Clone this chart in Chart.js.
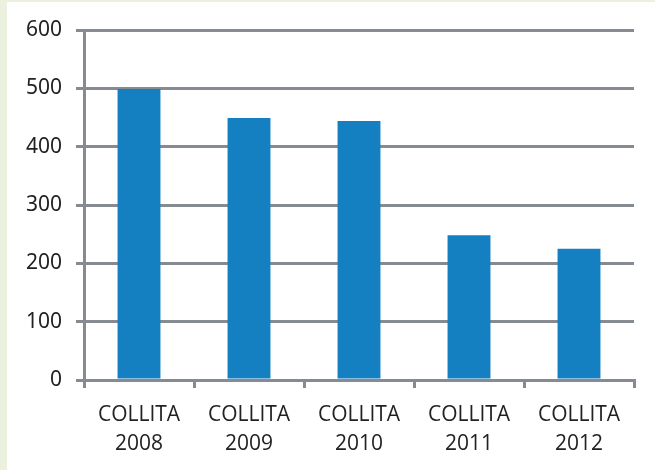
<!DOCTYPE html>
<html>
<head>
<meta charset="utf-8">
<script src="https://cdn.jsdelivr.net/npm/chart.js@4/dist/chart.umd.min.js"></script>
<style>
  html, body { margin: 0; padding: 0; background: #ebf1de; }
  #panel { position: absolute; left: 7px; top: 2px; width: 648px; height: 468px; background: #ffffff; }
</style>
</head>
<body>
<div id="panel"><canvas id="myChart" width="648" height="468"></canvas></div>
<script>
// dades de les collites
var categories = [["COLLITA", "2008"], ["COLLITA", "2009"], ["COLLITA", "2010"], ["COLLITA", "2011"], ["COLLITA", "2012"]];
var values = [499, 449, 444, 248, 225];
var yTicks = [0, 100, 200, 300, 400, 500, 600];

(function() {
  var gridColor = "#868b92";
  var ctx = document.getElementById("myChart").getContext("2d");

  var chart = new Chart(ctx, {
    type: "bar",
    data: {
      labels: categories,
      datasets: [{
        data: values,
        backgroundColor: "#1480c1",
        borderWidth: 0,
        barPercentage: 0.39,
        categoryPercentage: 1
      }]
    },
    options: {
      responsive: false,
      animation: false,
      layout: { padding: { top: 28, right: 21, left: 0, bottom: 0 } },
      plugins: { legend: { display: false }, tooltip: { enabled: false } },
      scales: {
        x: {
          grid: { offset: true, drawOnChartArea: false, drawTicks: true, tickLength: 8, color: gridColor, lineWidth: 3 },
          border: { display: true, color: gridColor, width: 3 },
          ticks: {
            color: "#222222",
            padding: 12,
            font: { family: "'Liberation Sans Narrow', 'Open Sans', sans-serif", size: 21, lineHeight: 1.4 }
          },
          afterFit: function(scale) { scale.height = 90; }
        },
        y: {
          min: 0,
          max: 600,
          afterBuildTicks: function(scale) {
            scale.ticks = yTicks.map(function(v) { return { value: v }; });
          },
          grid: { color: gridColor, lineWidth: 3, tickLength: 8 },
          border: { display: true, color: gridColor, width: 3 },
          ticks: {
            color: "#222222",
            padding: 14,
            font: { family: "'Noto Sans', sans-serif", size: 21 }
          },
          afterFit: function(scale) { scale.width = 77; }
        }
      }
    }
  });
})();
</script>
</body>
</html>
